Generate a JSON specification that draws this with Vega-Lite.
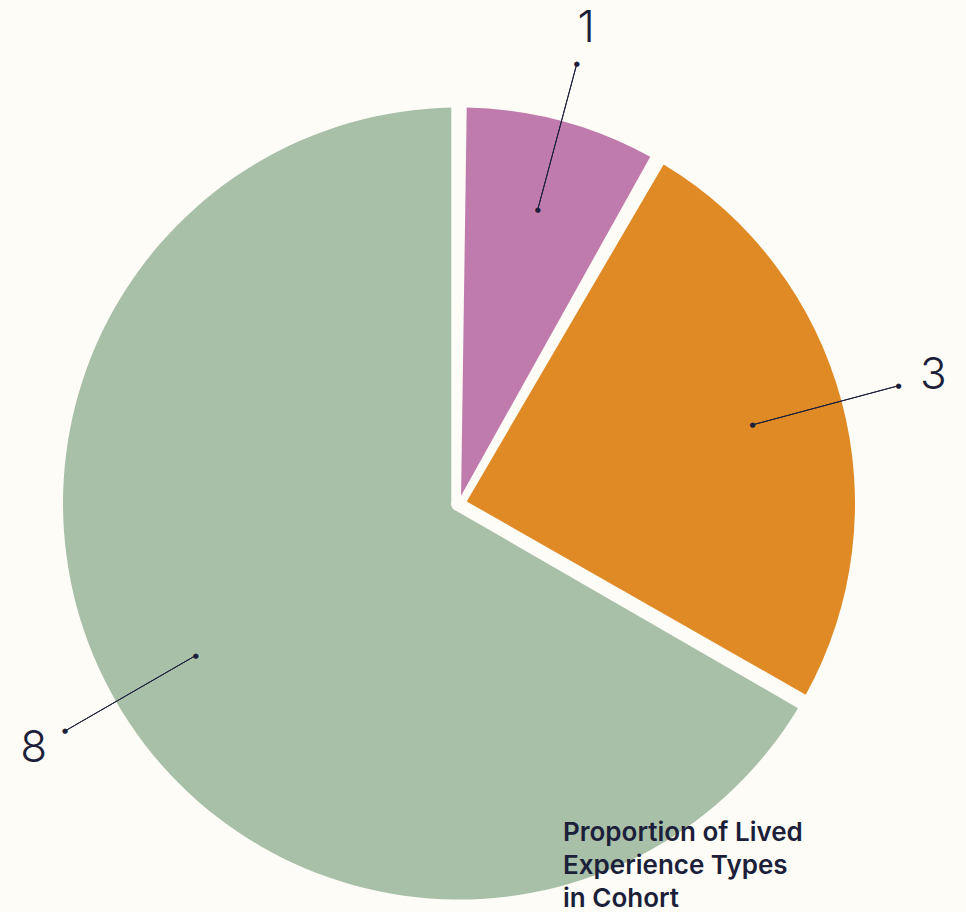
{
  "$schema": "https://vega.github.io/schema/vega-lite/v6.json",
  "width": 918,
  "height": 817,
  "autosize": "none",
  "padding": {"left": 0, "top": 95, "right": 48, "bottom": 0},
  "background": "#fdfcf6",
  "config": {"view": {"stroke": null}},
  "title": {
    "text": ["Proportion of Lived", "Experience Types", "in Cohort"],
    "orient": "bottom",
    "anchor": "start",
    "frame": "group",
    "offset": 0,
    "dx": 563,
    "dy": -92,
    "font": "Inter",
    "fontSize": 26,
    "fontWeight": 600,
    "color": "#1c1f3a",
    "lineHeight": 33
  },
  "data": {
    "values": [
      {"type": "Type A", "count": 1},
      {"type": "Type B", "count": 3},
      {"type": "Type C", "count": 8}
    ]
  },
  "transform": [
    {"stack": "count", "groupby": [], "sort": [{"field": "count", "order": "ascending"}], "as": ["start", "end"]}
  ],
  "layer": [
    {
      "mark": {"type": "arc", "radius": 396, "radius2": 8, "padAngle": 0.039},
      "encoding": {
        "theta": {"field": "end", "type": "quantitative", "stack": null},
        "theta2": {"field": "start"},
        "color": {
          "field": "type",
          "type": "nominal",
          "scale": {"domain": ["Type A", "Type B", "Type C"], "range": ["#c07bad", "#e08a25", "#a9c0a8"]},
          "legend": null
        }
      }
    },
    {
      "transform": [
        {"fold": ["start", "end"], "as": ["edge", "pos"]},
        {"aggregate": [{"op": "mean", "field": "pos", "as": "mid"}], "groupby": ["type", "count"]}
      ],
      "layer": [
        {
          "mark": {"type": "arc", "radius": 455, "radius2": 304, "filled": false, "stroke": "#1c1f3a", "strokeWidth": 1},
          "encoding": {
            "theta": {"field": "mid", "type": "quantitative", "stack": null},
            "theta2": {"field": "mid"}
          }
        },
        {
          "mark": {"type": "text", "text": "●", "font": "DejaVu Sans", "fontSize": 7, "color": "#1c1f3a", "radius": 304, "align": "center", "baseline": "middle"},
          "encoding": {"theta": {"field": "mid", "type": "quantitative", "stack": null}}
        },
        {
          "mark": {"type": "text", "text": "●", "font": "DejaVu Sans", "fontSize": 7, "color": "#1c1f3a", "radius": 455, "align": "center", "baseline": "middle"},
          "encoding": {"theta": {"field": "mid", "type": "quantitative", "stack": null}}
        },
        {
          "mark": {"type": "text", "font": "Inter", "fontSize": 44, "fontWeight": 300, "color": "#1c1f3a", "radius": 491, "align": "center", "baseline": "middle"},
          "encoding": {
            "theta": {"field": "mid", "type": "quantitative", "stack": null},
            "text": {"field": "count", "type": "quantitative"}
          }
        }
      ]
    }
  ]
}
